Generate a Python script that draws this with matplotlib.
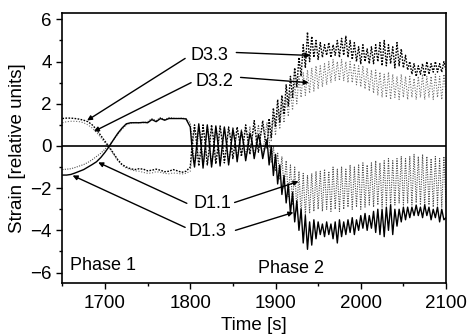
import numpy as np
import matplotlib
matplotlib.use("Agg")
import matplotlib.pyplot as plt
from matplotlib.ticker import MultipleLocator

plt.rcParams['font.family'] = ['Liberation Sans', 'DejaVu Sans']

# ---- sampling grids (s) ----
time_p1 = np.arange(1650, 1800, 5.0)        # phase 1 (30 samples)
time_p2 = np.arange(1800, 2100.01, 2.5)     # phase 2 (121 samples)

# ---- phase 1 values ----
d33_p1 = [1.30, 1.32, 1.32, 1.30, 1.27, 1.22, 1.15, 1.00, 0.78, 0.50,
          0.22, -0.05, -0.35, -0.65, -0.88, -1.00, -1.08, -1.12, -1.08, -1.10,
          -1.18, -1.15, -1.10, -1.15, -1.22, -1.20, -1.12, -1.18, -1.25, -1.20]
d32_p1 = [1.10, 1.15, 1.17, 1.17, 1.15, 1.10, 1.00, 0.85, 0.65, 0.40,
          0.15, -0.10, -0.40, -0.70, -0.92, -1.05, -1.12, -1.18, -1.20, -1.25,
          -1.30, -1.28, -1.22, -1.25, -1.30, -1.32, -1.28, -1.30, -1.33, -1.30]
d13_p1 = [-1.38, -1.38, -1.35, -1.28, -1.20, -1.12, -1.00, -0.88, -0.75, -0.55,
          -0.30, -0.02, 0.30, 0.60, 0.85, 1.05, 1.10, 1.10, 1.10, 1.12,
          1.10, 1.25, 1.15, 1.30, 1.22, 1.30, 1.30, 1.30, 1.30, 1.28]
d11_p1 = [-1.12, -1.10, -1.08, -1.02, -0.95, -0.88, -0.78, -0.65, -0.50, -0.35,
          -0.15, 0.05, 0.28, 0.55, 0.80, 1.00, 1.08, 1.12, 1.10, 1.10,
          1.15, 1.30, 1.20, 1.35, 1.25, 1.35, 1.32, 1.30, 1.32, 1.30]

# ---- phase 2 values ----
d13_p2 = [0.9, -0.3, -1.0, 0.0, 1.05, 0.1, -1.05, 0.0, 1.0, 0.05,
          -1.0, -0.1, 0.95, 0.1, -0.95, 0.0, 0.9, 0.1, -0.9, -0.1,
          0.8, 0.2, -0.75, 0.0, 0.7, 0.1, -0.7, -0.1, 0.6, 0.2,
          -0.6, 0.0, 0.55, 0.1, -0.6, -0.1, 0.3,
          -0.9, 0.0, -1.4, -0.4, -1.8, -0.9, -2.3, -1.4, -2.7, -1.8,
          -3.2, -2.2, -3.6, -2.6, -4.0, -3.0, -4.6, -3.3, -4.9, -3.6,
          -4.7, -3.5, -4.4, -3.6, -4.2, -3.7, -4.3, -3.6, -4.2, -3.7,
          -4.4, -3.6, -4.6, -3.5, -4.3, -3.6, -4.2, -3.5, -4.1, -3.4,
          -4.2, -3.5, -4.0, -3.3, -3.9, -3.2, -4.0, -3.3, -3.9, -3.1,
          -4.1, -3.0, -4.2, -3.0, -4.3, -2.9, -4.0, -2.8, -4.2, -3.0,
          -3.8, -3.0, -3.6, -2.9, -3.5, -2.9, -3.4, -2.9, -3.3, -2.8,
          -3.3, -2.9, -3.4, -2.8, -3.3, -2.9, -3.5, -3.0, -3.4, -2.9,
          -3.6, -3.0, -3.5, -3.4]
d11_p2 = [1.1, 0.2, -0.8, -0.5, 0.9, 0.5, -0.9, -0.4, 0.95, 0.4,
          -0.9, -0.3, 0.9, 0.4, -0.85, -0.2, 0.85, 0.3, -0.8, -0.1,
          0.9, 0.3, -0.6, 0.1, 0.8, 0.2, -0.5, 0.2, 0.9, 0.1,
          -0.5, 0.3, 1.0, 0.0, -0.4, 0.4, 1.1,
          0.3, -0.8, 0.0, -1.2, -0.3, -1.6, -0.5, -2.0, -0.7, -2.4,
          -0.9, -2.8, -1.0, -3.1, -1.2, -3.3, -1.3, -3.3, -1.4, -3.2,
          -1.3, -3.1, -1.2, -3.0, -1.2, -3.1, -1.1, -3.0, -1.2, -3.1,
          -1.0, -3.0, -1.1, -3.1, -1.0, -3.0, -1.1, -2.9, -0.9, -3.0,
          -1.0, -2.9, -0.9, -3.0, -0.8, -2.9, -0.9, -2.8, -0.8, -2.9,
          -0.7, -2.8, -0.8, -2.9, -0.7, -2.8, -0.6, -2.9, -0.7, -2.8,
          -0.6, -2.7, -0.5, -2.8, -0.6, -2.7, -0.5, -2.8, -0.4, -2.7,
          -0.5, -2.8, -0.4, -2.9, -0.5, -2.8, -0.6, -2.9, -0.5, -2.8,
          -0.6, -2.9, -0.5, -2.7]
d33_p2 = [-1.0, 0.2, 1.0, 0.1, -0.95, -0.1, 1.0, 0.1, -0.9, 0.0,
          1.0, 0.2, -0.85, 0.0, 0.95, 0.2, -0.8, 0.0, 0.9, 0.3,
          -0.6, 0.1, 0.9, 0.3, -0.5, 0.2, 1.0, 0.3, -0.4, 0.4,
          1.2, 0.3, -0.3, 0.5, 1.2, 0.4, -0.1,
          1.3, 0.4, 1.8, 0.9, 2.2, 1.1, 2.4, 1.5, 2.9, 1.9,
          3.3, 2.3, 3.7, 2.8, 4.2, 3.3, 4.8, 3.7, 5.4, 4.0,
          5.2, 4.2, 5.0, 4.1, 4.9, 4.2, 4.8, 4.3, 4.9, 4.2,
          4.8, 4.3, 5.0, 4.2, 5.1, 4.3, 5.2, 4.2, 5.0, 4.1,
          4.9, 4.0, 4.7, 3.9, 4.8, 4.0, 4.6, 3.9, 4.7, 3.9,
          4.8, 4.0, 4.9, 3.8, 5.0, 3.8, 4.8, 3.9, 4.7, 3.7,
          4.9, 3.8, 4.6, 3.7, 4.3, 3.6, 4.0, 3.4, 3.9, 3.3,
          3.8, 3.4, 3.9, 3.3, 4.0, 3.4, 3.9, 3.5, 4.0, 3.5,
          3.9, 3.5, 4.0, 3.6]
d32_p2 = [-1.2, -0.2, 0.8, 0.5, -0.8, -0.4, 0.9, 0.4, -0.85, -0.3,
          0.85, 0.4, -0.8, -0.2, 0.8, 0.4, -0.7, -0.1, 0.8, 0.3,
          -0.5, 0.0, 0.7, 0.4, -0.4, 0.1, 0.8, 0.4, -0.3, 0.3,
          0.9, 0.4, -0.2, 0.5, 1.0, 0.4, 0.1,
          1.0, 0.2, 1.4, 0.5, 1.7, 0.8, 2.0, 1.1, 2.3, 1.4,
          2.6, 1.7, 3.0, 2.0, 3.3, 2.3, 3.5, 2.4, 3.6, 2.5,
          3.7, 2.6, 3.8, 2.7, 3.8, 2.8, 3.9, 2.9, 4.0, 3.0,
          4.1, 3.1, 4.0, 3.1, 4.1, 3.1, 4.0, 3.0, 4.0, 3.0,
          3.9, 2.9, 3.8, 2.8, 3.8, 2.7, 3.7, 2.6, 3.6, 2.5,
          3.6, 2.4, 3.5, 2.3, 3.4, 2.3, 3.5, 2.2, 3.4, 2.3,
          3.3, 2.2, 3.4, 2.3, 3.3, 2.2, 3.3, 2.3, 3.2, 2.2,
          3.3, 2.3, 3.4, 2.2, 3.3, 2.3, 3.3, 2.2, 3.4, 2.3,
          3.3, 2.2, 3.4, 2.5]

series_names = ["D3.3", "D3.2", "D1.1", "D1.3"]

t_all = np.concatenate([time_p1, time_p2])
d33 = np.concatenate([d33_p1, d33_p2])
d32 = np.concatenate([d32_p1, d32_p2])
d13 = np.concatenate([d13_p1, d13_p2])
d11 = np.concatenate([d11_p1, d11_p2])
for arr in (d33, d32, d13, d11):
    assert len(arr) == len(t_all), (len(arr), len(t_all))

fig = plt.figure(figsize=(4.69, 3.35), dpi=100)
ax = fig.add_axes([0.133, 0.155, 0.818, 0.806])

ax.plot(t_all, d32, color='#707070', lw=0.8, linestyle=(0, (1, 1.5)))
ax.plot(t_all, d11, color='#505050', lw=0.8, linestyle=(0, (1, 1.2)))
ax.plot(t_all, d33, color='black', lw=1.0, linestyle=(0, (1.2, 1)))
ax.plot(t_all, d13, color='black', lw=1.0, linestyle='-')
ax.axhline(0, color='black', lw=1.2)

ax.set_xlim(1650, 2100)
ax.set_ylim(-6.5, 6.3)
ax.xaxis.set_major_locator(MultipleLocator(100))
ax.xaxis.set_minor_locator(MultipleLocator(50))
ax.yaxis.set_major_locator(MultipleLocator(2))
ax.yaxis.set_minor_locator(MultipleLocator(1))
ax.tick_params(which='major', direction='out', length=4.5, width=1.0, labelsize=13.5, pad=3)
ax.tick_params(which='minor', direction='out', length=2.5, width=1.0)
ax.tick_params(axis='x', which='major', pad=4)
ax.tick_params(top=False, right=False, which='both')
for s in ax.spines.values():
    s.set_linewidth(1.2)

ax.set_xlabel("Time [s]", fontsize=13.5, labelpad=4)
ax.set_ylabel("Strain [relative units]", fontsize=13.5, labelpad=3)

# labels and arrows
lab_pos = {"D3.3": (1822, 4.31), "D3.2": (1828, 3.05), "D1.1": (1826.5, -2.71), "D1.3": (1820.5, -4.05)}
arrows = {
    "D3.3": [((1794, 4.15), (1679, 1.21)), ((1854, 4.43), (1941, 4.29))],
    "D3.2": [((1801, 3.0), (1687, 0.69)), ((1859, 3.25), (1939, 3.0))],
    "D1.1": [((1796, -2.72), (1692, -0.78)), ((1852, -2.68), (1927, -1.68))],
    "D1.3": [((1794, -3.86), (1662, -1.40)), ((1853, -4.0), (1921, -3.15))],
}
for name in series_names:
    x, y = lab_pos[name]
    ax.text(x, y, name, fontsize=13, ha='center', va='center')
    for start, tip in arrows[name]:
        ax.annotate('', xy=tip, xytext=start,
                    arrowprops=dict(arrowstyle='-|>', color='black', lw=1.0,
                                    mutation_scale=7, shrinkA=0, shrinkB=0))

ax.text(1659, -5.67, "Phase 1", fontsize=13, ha='left', va='center')
ax.text(1879, -5.8, "Phase 2", fontsize=13, ha='left', va='center')

fig.savefig("out.png", dpi=100)
